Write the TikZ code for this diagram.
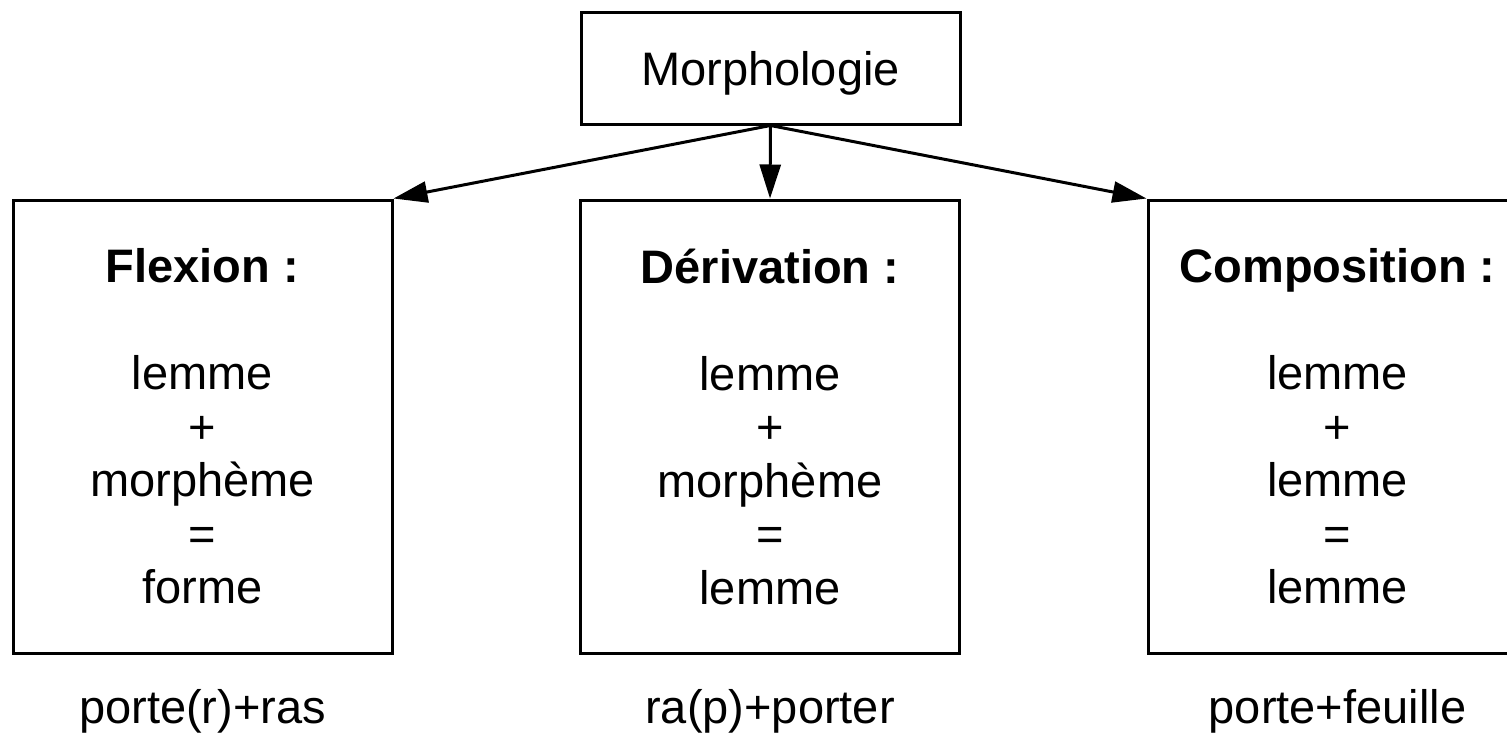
\documentclass[tikz,border=0pt]{standalone}
\usepackage{fontspec}
\setmainfont{Liberation Sans}
\usetikzlibrary{arrows.meta}
\begin{document}
\begin{tikzpicture}[x=0.5pt,y=-0.5pt,
  txt/.style={font=\fontsize{23.5}{26.75}\selectfont},
  box/.style={draw, line width=1.5pt, inner sep=0pt, align=center, txt,
    minimum width=189.5pt, minimum height=226.5pt},
  topbox/.style={draw, line width=1.5pt, inner sep=0pt, txt,
    minimum width=189.5pt, minimum height=56pt, text height=17pt, text depth=0pt},
  conn/.style={line width=1.5pt, -{Triangle[length=17pt,width=10.5pt]}},
  example/.style={txt, anchor=base, inner sep=0pt}]
\useasboundingbox (0,0) rectangle (1507,735);
\node[topbox] (morph) at (770.5,68) {Morphologie};
\node[box] (flex) at (202.5,426.5) {\textbf{Flexion :}\\[26.75pt]lemme\\+\\morphème\\=\\forme};
\node[box] (deriv) at (770,426.5) {\textbf{Dérivation :}\\[26.75pt]lemme\\+\\morphème\\=\\lemme};
\node[box] (comp) at (1337.5,426.5) {\textbf{Composition :}\\[26.75pt]lemme\\+\\lemme\\=\\lemme};
\draw[conn] (morph.south) -- (flex.north east);
\draw[conn] (morph.south) -- (deriv.north);
\draw[conn] (morph.south) -- (comp.north west);
\node[example] (flexex) at (202.5,723) {porte(r)+ras};
\node[example] (derivex) at (770,723) {ra(p)+porter};
\node[example] (compex) at (1337.5,723) {porte+feuille};
\end{tikzpicture}
\end{document}
